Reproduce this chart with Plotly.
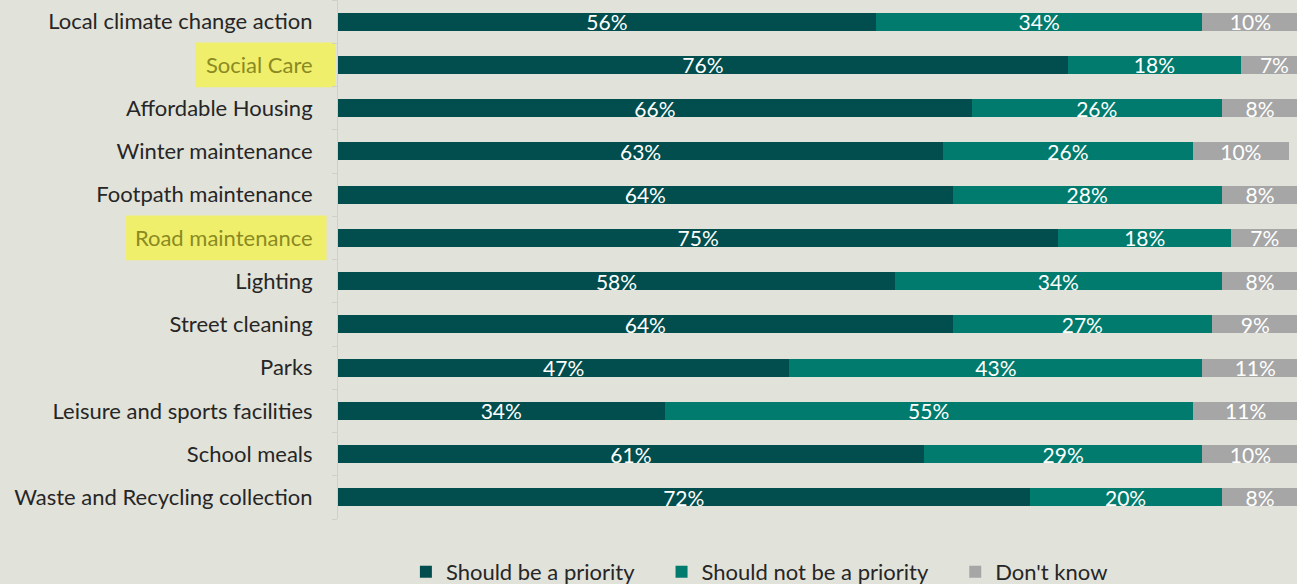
import plotly.graph_objects as go

categories = [
    "Local climate change action",
    "Social Care",
    "Affordable Housing",
    "Winter maintenance",
    "Footpath maintenance",
    "Road maintenance",
    "Lighting",
    "Street cleaning",
    "Parks",
    "Leisure and sports facilities",
    "School meals",
    "Waste and Recycling collection",
]
priority = [56, 76, 66, 63, 64, 75, 58, 64, 47, 34, 61, 72]
not_priority = [34, 18, 26, 26, 28, 18, 34, 27, 43, 55, 29, 20]
dont_know = [10, 7, 8, 10, 8, 7, 8, 9, 11, 11, 10, 8]
highlighted = ["Social Care", "Road maintenance"]

BG = "#e1e2da"
FONT = "Lato"
PAD = "\u00a0" * 4  # extra spacing between legend entries
series = [
    ("Should be a priority" + PAD, priority, "#024e4e"),
    ("Should not be a priority" + PAD, not_priority, "#017b6d"),
    ("Don't know", dont_know, "#a6a6a6"),
]

fig = go.Figure()
for name, vals, color in series:
    fig.add_trace(go.Bar(
        y=categories, x=vals, name=name, orientation="h",
        marker=dict(color=color, line=dict(width=0)),
        text=[f"{v}%" for v in vals],
        textposition="inside", insidetextanchor="middle", constraintext="none",
        textfont=dict(family=FONT, size=21, color="white"),
        hoverinfo="skip",
    ))

ticktext = [
    f'<span style="color:#8a8a22">{c}</span>' if c in highlighted else c
    for c in categories
]

# yellow highlight boxes behind the emphasised category labels
box_spans = {"Social Care": (-0.149, -0.003), "Road maintenance": (-0.221, -0.012)}
for c in highlighted:
    i = categories.index(c)
    x0, x1 = box_spans[c]
    fig.add_shape(type="rect", xref="paper", yref="y", x0=x0, x1=x1,
                  y0=i - 0.52, y1=i + 0.52, fillcolor="#f0ef6b",
                  line=dict(width=0), layer="below")

fig.update_layout(
    barmode="stack", bargap=0.58,
    width=1297, height=584,
    paper_bgcolor=BG, plot_bgcolor=BG,
    margin=dict(l=338, r=0, t=0, b=65, autoexpand=False),
    font=dict(family=FONT, size=22, color="#262626"),
    showlegend=True,
    legend=dict(orientation="h", xref="container", yref="paper",
                x=0.5855, xanchor="center", y=-0.102, yanchor="middle",
                font=dict(family=FONT, size=22, color="#262626"),
                itemwidth=30, traceorder="normal", bgcolor="rgba(0,0,0,0)"),
)
fig.update_xaxes(range=[0, 99.85], visible=False, fixedrange=True)
fig.update_yaxes(
    autorange="reversed", tickmode="array", tickvals=categories, ticktext=ticktext,
    showline=True, linecolor="#cfd0c8", linewidth=1,
    ticks="outside", tickson="boundaries", ticklen=5, tickcolor="#cfd0c8",
    ticklabelstandoff=20, showgrid=False,
    tickfont=dict(family=FONT, size=22, color="#262626"),
)

fig.write_html("out.html")
